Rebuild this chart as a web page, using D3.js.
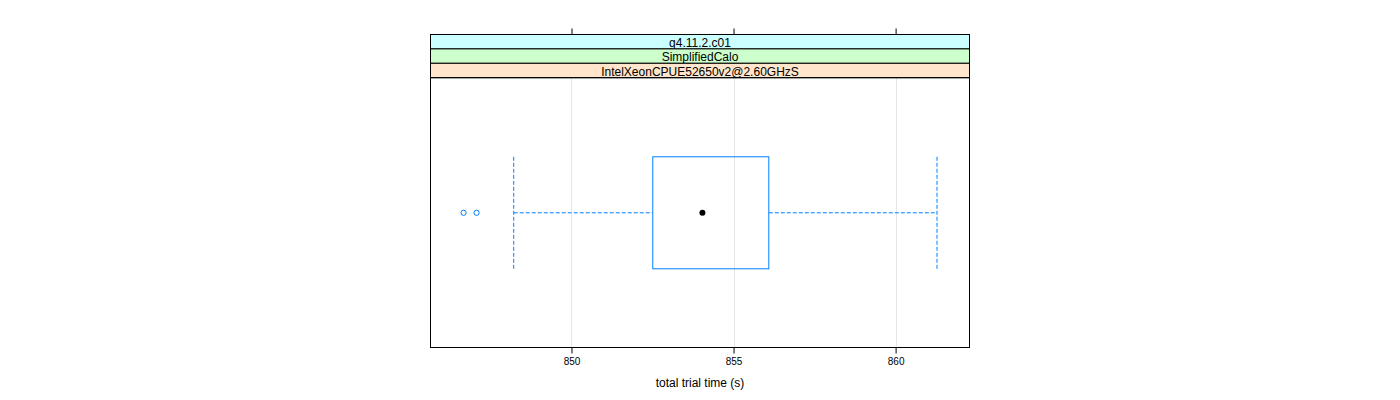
<!DOCTYPE html>
<html><head><meta charset="utf-8">
<script src="https://cdn.jsdelivr.net/npm/d3@7"></script>
<style>body{margin:0;background:#fff;} text{font-family:"Liberation Sans",Arial,sans-serif;}</style>
</head><body>
<svg id="chart" width="1400" height="400"></svg>
<script>
const stripLabels = ["g4.11.2.c01", "SimplifiedCalo", "IntelXeonCPUE52650v2@2.60GHzS"];
const stripColors = ["#ccffff", "#ccffcc", "#ffe5cc"];
const boxStats = [848.21, 852.5, 854.04, 856.08, 861.27]; // lower whisker, Q1, median, Q3, upper whisker
const outliers = [846.67, 847.07];
const xTicks = [850, 855, 860];
const xDomain = [845.65, 862.28];
const xTitle = "total trial time (s)";

const svg = d3.select("#chart");
const L = 430.5, R = 969.5, stripTop = 34.5, stripH = 14.4, panelBottom = 347.5;
const panelTop = stripTop + stripH * stripLabels.length;
const x = d3.scaleLinear().domain(xDomain).range([L, R]);
const px = v => Math.round(x(v)) + 0.5;
const pxs = v => x(v) + 0.25;
const y = d3.scaleBand().domain(["a"]).range([panelTop, panelBottom]);
const yc = y("a") + y.bandwidth() / 2 + 0.2;
const boxHalf = 56;

// grid
svg.selectAll("line.grid").data(xTicks).enter().append("line")
  .attr("x1", d => px(d)).attr("x2", d => px(d))
  .attr("y1", panelTop).attr("y2", panelBottom)
  .attr("stroke", "#e6e6e6").attr("stroke-width", 1);

// strips
stripLabels.forEach((lab, i) => {
  const sy = stripTop + i * stripH;
  svg.append("rect").attr("x", L).attr("y", sy).attr("width", R - L).attr("height", stripH)
    .attr("fill", stripColors[i]).attr("stroke", "#000").attr("stroke-width", 1);
  svg.append("text").attr("x", (L + R) / 2).attr("y", sy + stripH / 2 + 5)
    .attr("text-anchor", "middle").attr("font-size", 12).attr("fill", "#000").text(lab);
});

// panel border
svg.append("rect").attr("x", L).attr("y", panelTop).attr("width", R - L).attr("height", panelBottom - panelTop)
  .attr("fill", "none").attr("stroke", "#000").attr("stroke-width", 1);

// axes
const axB = d3.axisBottom(x).tickValues(xTicks).tickSize(6).tickPadding(4).tickFormat(d3.format("d"));
const gB = svg.append("g").attr("transform", `translate(0,${panelBottom})`).call(axB);
gB.select(".domain").remove();
gB.selectAll("text").attr("font-size", 10).attr("fill", "#000").attr("font-family", "Liberation Sans, Arial, sans-serif");
const axT = d3.axisTop(x).tickValues(xTicks).tickSize(6).tickFormat("");
const gT = svg.append("g").attr("transform", `translate(0,${stripTop})`).call(axT);
gT.select(".domain").remove();

svg.append("text").attr("x", (L + R) / 2).attr("y", 387).attr("text-anchor", "middle")
  .attr("font-size", 12).attr("fill", "#000").text(xTitle);

// box plot
const blue = "#0080ff";
const [wl, q1, med, q3, wh] = boxStats;
svg.append("rect").attr("x", pxs(q1)).attr("y", yc - boxHalf).attr("width", pxs(q3) - pxs(q1)).attr("height", 2 * boxHalf)
  .attr("fill", "none").attr("stroke", blue).attr("stroke-width", 1);
[[wl, q1], [q3, wh]].forEach(([a, b]) => {
  svg.append("line").attr("x1", pxs(a)).attr("x2", pxs(b)).attr("y1", yc).attr("y2", yc)
    .attr("stroke", blue).attr("stroke-dasharray", "4,2").attr("stroke-width", 1);
});
[wl, wh].forEach(v => {
  svg.append("line").attr("x1", pxs(v)).attr("x2", pxs(v)).attr("y1", yc - boxHalf).attr("y2", yc + boxHalf)
    .attr("stroke", blue).attr("stroke-dasharray", "4,2").attr("stroke-width", 1);
});
svg.append("circle").attr("cx", x(med)).attr("cy", yc).attr("r", 3).attr("fill", "#000");
svg.selectAll("circle.out").data(outliers).enter().append("circle")
  .attr("cx", d => x(d)).attr("cy", yc).attr("r", 2.6).attr("fill", "none").attr("stroke", blue).attr("stroke-width", 1);
</script>
</body></html>
